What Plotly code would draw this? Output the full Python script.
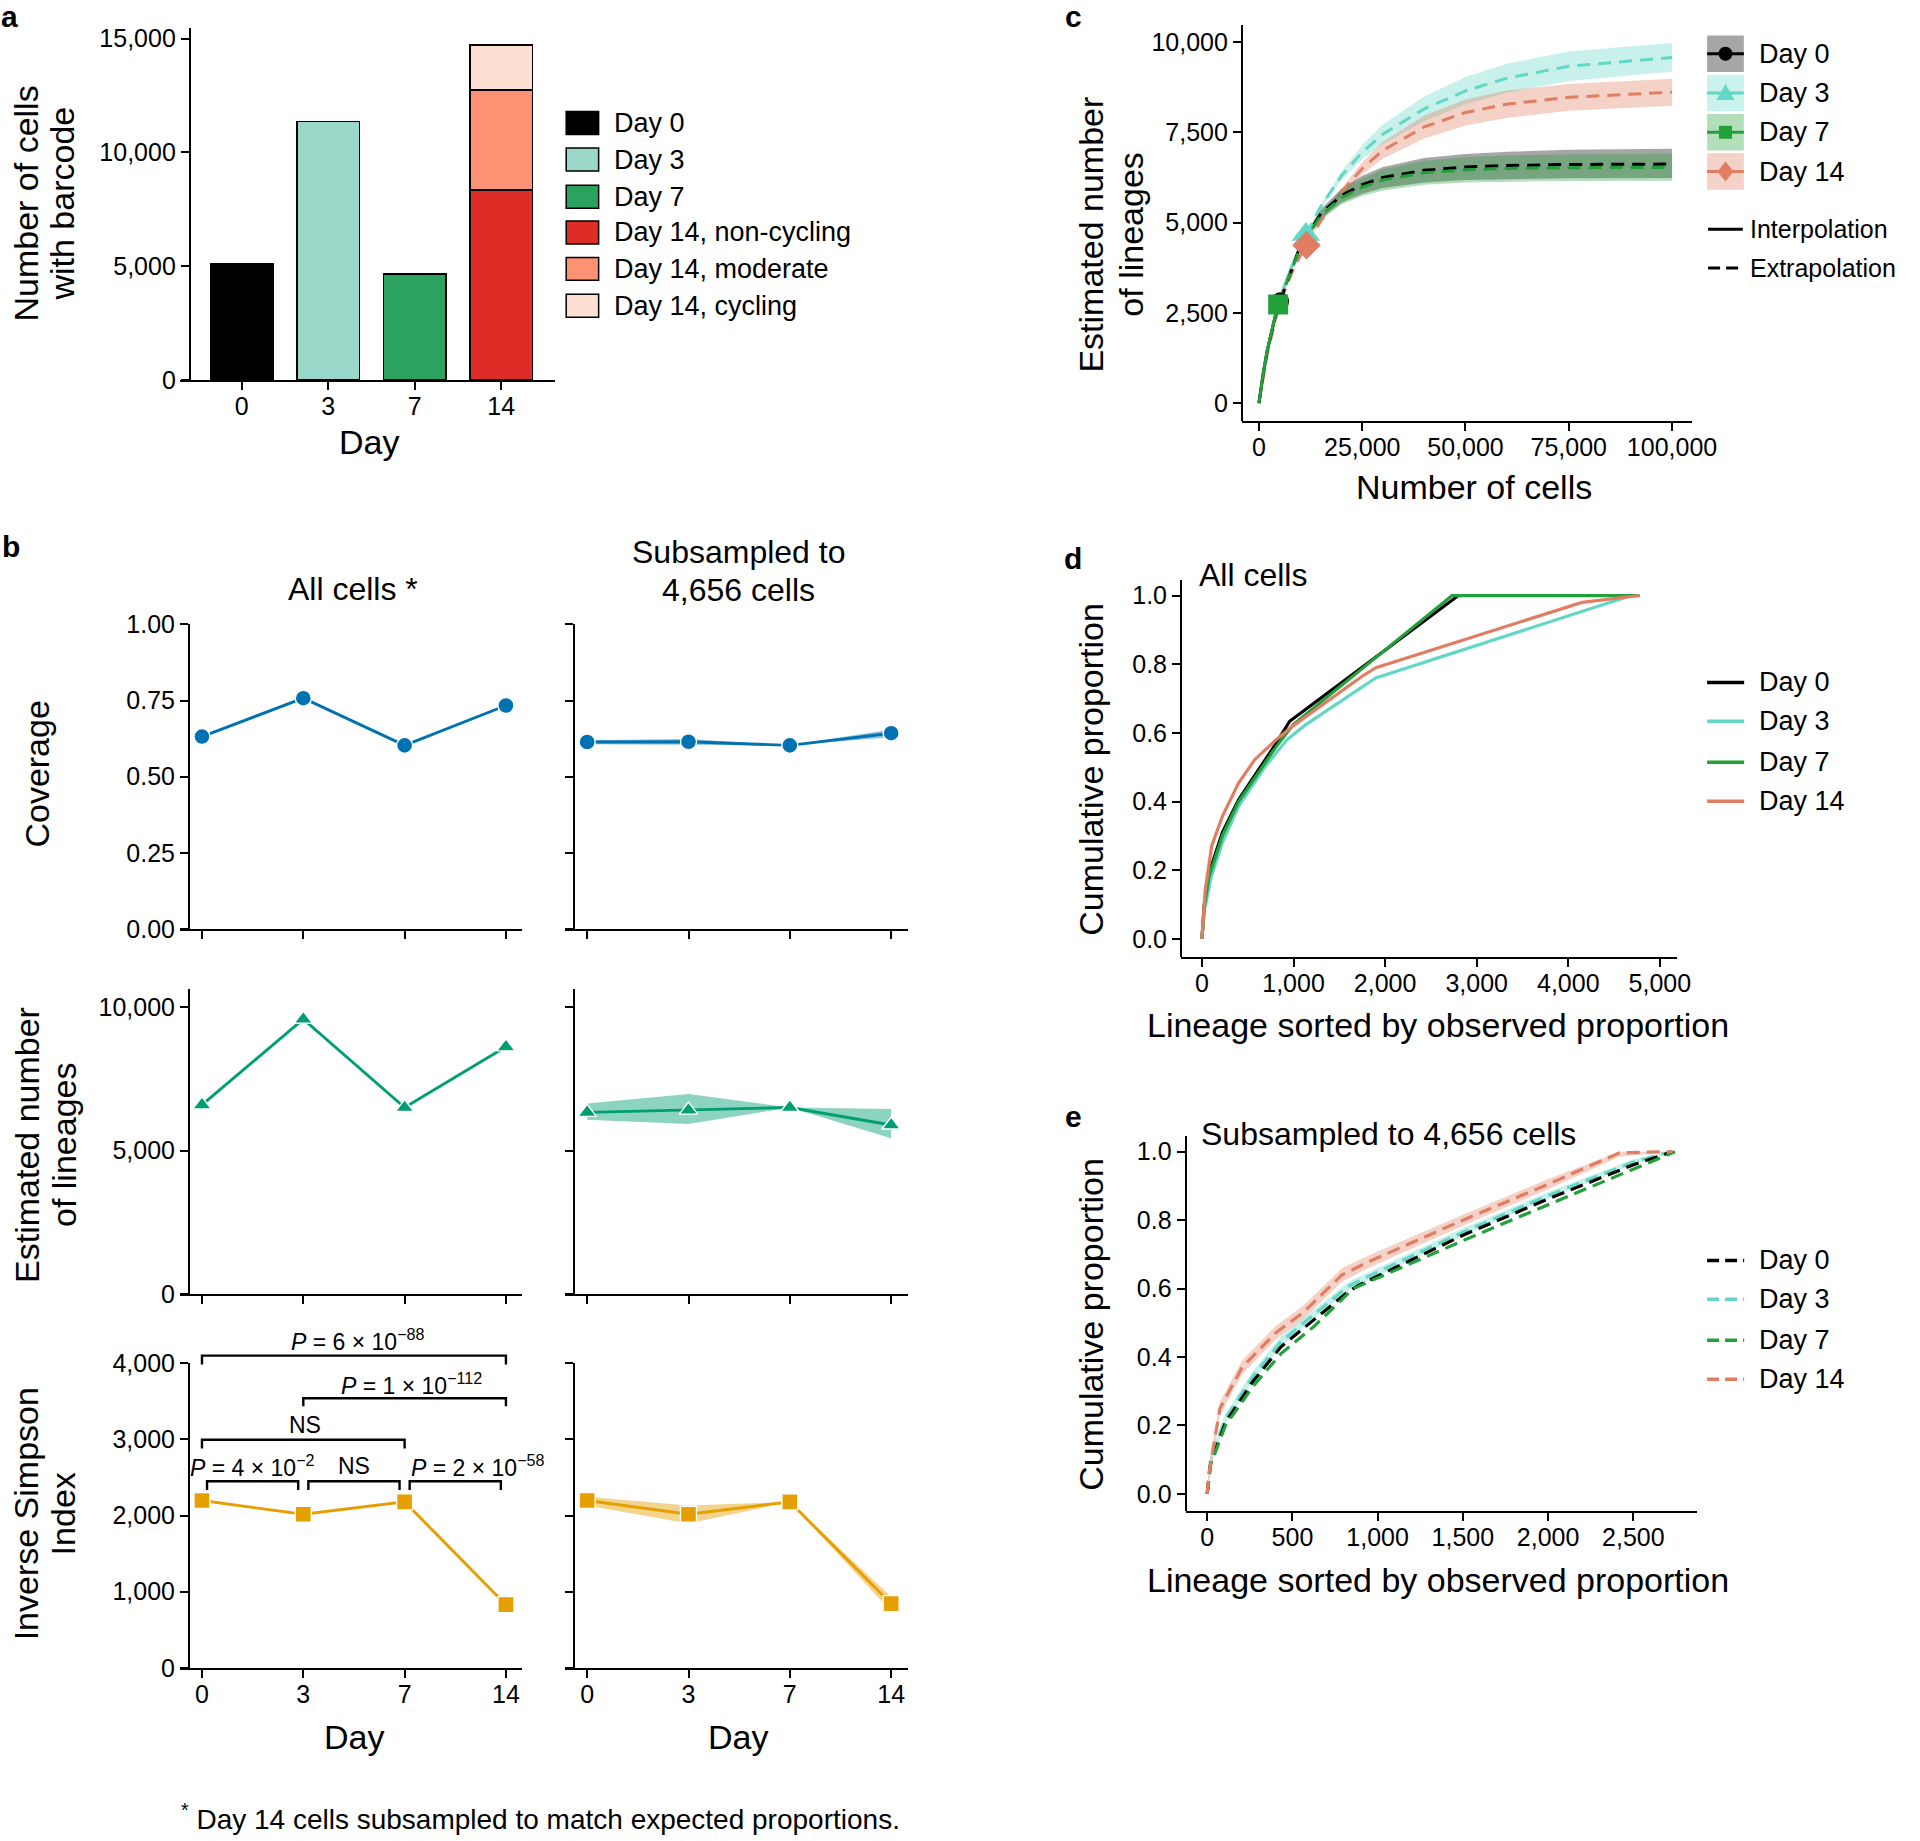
import plotly.graph_objects as go

W, H = 1920, 1841
FONT = "Liberation Sans, Arial, Helvetica, sans-serif"
# the page is photographed with the figure slightly shrunk and offset;
# positions below are given in reference pixels and mapped through this
OX, OY, DW, DH = 2.7, 12.5, 1893.0, 1816.0

# ---------------- data ----------------
days = ["0", "3", "7", "14"]

# a: number of cells with barcode
bar_days = ["0", "3", "7", "14", "14", "14"]
bar_names = ["Day 0", "Day 3", "Day 7", "Day 14, non-cycling", "Day 14, moderate", "Day 14, cycling"]
bar_cells = [5120, 11370, 4656, 8340, 4395, 1990]
bar_colors = ["#000000", "#99d8c9", "#2ca25f", "#de2d26", "#fc9272", "#fee0d2"]

# b: diversity per day, all cells and subsampled (with range)
coverage_all = [0.632, 0.758, 0.603, 0.734]
coverage_sub = [0.614, 0.615, 0.603, 0.643]
coverage_sub_lo = [0.607, 0.605, 0.603, 0.630]
coverage_sub_hi = [0.620, 0.624, 0.603, 0.655]

lineages_all = [6590, 9570, 6500, 8610]
lineages_sub = [6330, 6410, 6500, 5890]
lineages_sub_lo = [6070, 5930, 6500, 5430]
lineages_sub_hi = [6640, 6970, 6500, 6450]

simpson_all = [2197, 2016, 2179, 829]
simpson_sub = [2197, 2016, 2179, 842]
simpson_sub_lo = [2130, 1895, 2179, 738]
simpson_sub_hi = [2247, 2130, 2179, 933]

# significance brackets (inverse Simpson, all cells), x in day-index units
bracket_start = [0, 1, 0, 0.05, 1.05, 2.05]
bracket_end = [3, 3, 2, 0.95, 1.95, 2.95]
bracket_top = [4100, 3540, 2995, 2450, 2450, 2450]
bracket_foot = [3985, 3435, 2880, 2335, 2335, 2335]
bracket_text = ["<i>P</i> = 6 × 10<sup>−88</sup>", "<i>P</i> = 1 × 10<sup>−112</sup>", "NS",
                "<i>P</i> = 4 × 10<sup>−2</sup>", "NS", "<i>P</i> = 2 × 10<sup>−58</sup>"]
bracket_text_x = [1.54, 2.07, 1.02, 0.50, 1.50, 2.72]
bracket_text_y = [4300, 3730, 3190, 2650, 2650, 2650]

# c: rarefaction (interpolation) / extrapolation of lineage number
c_names = ["Day 0", "Day 3", "Day 7", "Day 14"]
obs_cells = [5120, 11370, 4656, 11500]
obs_lineages = [2822, 4668, 2731, 4372]

interp_cells_d0 = [0, 1000, 2000, 3000, 4000, 5120]
interp_lin_d0 = [0, 800, 1450, 1980, 2420, 2822]
interp_cells_d3 = [0, 2000, 4000, 6000, 8000, 10000, 11370]
interp_lin_d3 = [0, 1450, 2450, 3200, 3800, 4320, 4668]
interp_cells_d7 = [0, 1000, 2000, 3000, 4000, 4656]
interp_lin_d7 = [0, 810, 1460, 1990, 2440, 2731]
interp_cells_d14 = [0, 2000, 4000, 6000, 8000, 10000, 11500]
interp_lin_d14 = [0, 1350, 2320, 3050, 3620, 4090, 4372]

extrap_cells_d0 = [5120, 10000, 15000, 20000, 25000, 30000, 40000, 50000, 60000, 75000, 100000]
extrap_lin_d0 = [2822, 4350, 5250, 5750, 6050, 6250, 6450, 6540, 6580, 6610, 6622]
extrap_lo_d0 = [2822, 4290, 5120, 5560, 5800, 5960, 6110, 6180, 6210, 6228, 6234]
extrap_hi_d0 = [2822, 4410, 5380, 5940, 6300, 6540, 6790, 6900, 6960, 7020, 7047]

extrap_cells_d7 = [4656, 10000, 15000, 20000, 25000, 30000, 40000, 50000, 60000, 75000, 100000]
extrap_lin_d7 = [2731, 4300, 5200, 5690, 5980, 6180, 6380, 6460, 6500, 6520, 6530]
extrap_lo_d7 = [2731, 4240, 5070, 5500, 5740, 5890, 6050, 6110, 6140, 6155, 6162]
extrap_hi_d7 = [2731, 4360, 5330, 5880, 6220, 6470, 6710, 6810, 6860, 6890, 6909]

extrap_cells_d3 = [11370, 15000, 20000, 25000, 30000, 40000, 50000, 60000, 75000, 100000]
extrap_lin_d3 = [4668, 5450, 6300, 6950, 7450, 8150, 8650, 9000, 9330, 9575]
extrap_lo_d3 = [4668, 5400, 6180, 6750, 7180, 7810, 8270, 8600, 8920, 9175]
extrap_hi_d3 = [4668, 5500, 6420, 7150, 7720, 8490, 9030, 9400, 9740, 9975]

extrap_cells_d14 = [11500, 15000, 20000, 25000, 30000, 40000, 50000, 60000, 75000, 100000]
extrap_lin_d14 = [4372, 5050, 5850, 6500, 7000, 7650, 8050, 8280, 8470, 8614]
extrap_lo_d14 = [4372, 5000, 5750, 6330, 6770, 7330, 7690, 7900, 8100, 8237]
extrap_hi_d14 = [4372, 5100, 5950, 6670, 7230, 7970, 8410, 8660, 8840, 8984]

# d: cumulative proportion, all cells
d_x_d0 = [0, 25, 76, 223, 400, 576, 811, 958, 2800]
d_y_d0 = [0, 0.10, 0.19, 0.31, 0.405, 0.475, 0.57, 0.634, 1.0]
d_x_d3 = [0, 25, 100, 223, 400, 693, 928, 1134, 1898, 4690]
d_y_d3 = [0, 0.08, 0.18, 0.28, 0.386, 0.503, 0.58, 0.624, 0.76, 1.0]
d_x_d7 = [0, 25, 76, 223, 400, 576, 811, 1000, 2731, 4780]
d_y_d7 = [0, 0.09, 0.18, 0.30, 0.40, 0.47, 0.56, 0.625, 1.0, 1.0]
d_x_d14 = [0, 35, 106, 223, 400, 576, 811, 987, 1750, 1900, 4150, 4780]
d_y_d14 = [0, 0.14, 0.27, 0.357, 0.454, 0.522, 0.58, 0.619, 0.765, 0.79, 0.98, 1.0]

# e: cumulative proportion, subsampled to 4,656 cells
e_x_d0 = [0, 20, 107, 270, 433, 628, 824, 889, 1500, 2000, 2500, 2728]
e_y_d0 = [0, 0.09, 0.209, 0.33, 0.43, 0.51, 0.59, 0.61, 0.756, 0.862, 0.962, 1.0]
e_x_d3 = [0, 20, 107, 270, 433, 628, 824, 870, 1500, 2000, 2500, 2720]
e_y_d3 = [0, 0.10, 0.22, 0.345, 0.445, 0.525, 0.605, 0.618, 0.765, 0.872, 0.97, 1.0]
e_lo_d3 = [0, 0.085, 0.205, 0.33, 0.43, 0.512, 0.592, 0.606, 0.754, 0.862, 0.962, 1.0]
e_hi_d3 = [0, 0.115, 0.235, 0.36, 0.46, 0.538, 0.618, 0.63, 0.776, 0.882, 0.978, 1.0]
e_x_d7 = [0, 20, 107, 270, 433, 628, 856, 1500, 2000, 2500, 2744]
e_y_d7 = [0, 0.085, 0.20, 0.315, 0.41, 0.49, 0.60, 0.74, 0.845, 0.948, 1.0]
e_x_d14 = [0, 10, 75, 205, 400, 563, 791, 954, 1500, 2000, 2419, 2728]
e_y_d14 = [0, 0.06, 0.25, 0.37, 0.47, 0.53, 0.64, 0.68, 0.80, 0.905, 0.997, 1.0]
e_lo_d14 = [0, 0.035, 0.23, 0.35, 0.45, 0.51, 0.62, 0.662, 0.784, 0.89, 0.985, 1.0]
e_hi_d14 = [0, 0.085, 0.27, 0.39, 0.49, 0.55, 0.66, 0.698, 0.816, 0.92, 1.0, 1.0]

# colours
BLUE, GREEN, ORANGE = "#0072B2", "#009E73", "#E69F00"
day_line = ["#000000", "#62d7c5", "#22a03a", "#e07d62"]
day_band = ["rgba(0,0,0,0.35)", "rgba(98,215,197,0.35)", "rgba(34,160,58,0.35)", "rgba(224,125,98,0.35)"]


# ---------------- helpers ----------------
def px(x):
    return (x - OX) / DW


def py(y):
    return 1 - (y - OY) / DH


layout = {}
annotations = []
shapes = []
traces = []


def axis_style(**kw):
    d = dict(showline=True, linecolor="black", linewidth=2, ticks="outside", ticklen=8,
             tickwidth=2, tickcolor="black", showgrid=False, zeroline=False,
             tickfont=dict(family=FONT, size=25, color="black"))
    d.update(kw)
    return d


def add_panel(n, left, right, top, bottom, xrange, yrange, yline, xkw=None, ykw=None):
    s = "" if n == 1 else str(n)
    layout["xaxis" + s] = axis_style(domain=[px(left), px(right)], range=xrange,
                                     anchor="y" + s, ticklabelstandoff=-5, **(xkw or {}))
    layout["yaxis" + s] = axis_style(domain=[py(bottom), py(top)], range=yrange,
                                     anchor="free", position=px(yline), **(ykw or {}))
    return "x" + s, "y" + s


def note(text, x, y, size=27, xanchor="center", yanchor="middle", angle=0):
    annotations.append(dict(text=text, x=px(x), y=py(y), xref="paper", yref="paper",
                            showarrow=False, xanchor=xanchor, yanchor=yanchor, textangle=angle,
                            font=dict(family=FONT, size=size, color="black")))


cat = dict(type="category", categoryorder="array", categoryarray=days)

# ---------------- panel a ----------------
xa, ya = add_panel(1, 182.3, 557, 27, 379, [-0.717, 3.62], [0, 15450], 192.3, xkw=cat,
                   ykw=dict(tickvals=[0, 5000, 10000, 15000], tickformat=",d"))
for d, v, c, nm in zip(bar_days, bar_cells, bar_colors, bar_names):
    traces.append(go.Bar(x=[d], y=[v], name=nm, width=0.72, marker=dict(color=c, line=dict(color="black", width=1.5)),
                         xaxis=xa, yaxis=ya, showlegend=False))

# ---------------- panel b ----------------
cols = [(182.7, 524.5, 191.5), (567.5, 909.3, 576.3)]
rows = [(624, 929, [0, 1], dict(tickvals=[0, 0.25, 0.5, 0.75, 1.0], tickformat=".2f")),
        (989, 1295, [0, 10625], dict(tickvals=[0, 5000, 10000], tickformat=",d")),
        (1364, 1669, [0, 4000], dict(tickvals=[0, 1000, 2000, 3000, 4000], tickformat=",d"))]
row_data = [
    (coverage_all, coverage_sub, coverage_sub_lo, coverage_sub_hi, BLUE, "circle", "rgba(0,114,178,0.45)"),
    (lineages_all, lineages_sub, lineages_sub_lo, lineages_sub_hi, GREEN, "triangle-up", "rgba(0,158,115,0.45)"),
    (simpson_all, simpson_sub, simpson_sub_lo, simpson_sub_hi, ORANGE, "square", "rgba(230,159,0,0.45)"),
]
n = 2
for r, (top_, bot_, yr, yk) in enumerate(rows):
    allv, subv, lo, hi, col, sym, band = row_data[r]
    for ci, (l, rgt, yl) in enumerate(cols):
        xk = dict(cat, showticklabels=(r == 2))
        ykk = dict(yk, showticklabels=(ci == 0))
        xr, yrr = add_panel(n, l, rgt, top_, bot_, [-0.215, 3.162], yr, yl, xkw=xk, ykw=ykk)
        if ci == 1:
            traces.append(go.Scatter(x=days + days[::-1], y=hi + lo[::-1], fill="toself", fillcolor=band,
                                     line=dict(width=0), mode="lines", xaxis=xr, yaxis=yrr,
                                     showlegend=False, hoverinfo="skip"))
        vals = allv if ci == 0 else subv
        traces.append(go.Scatter(x=days, y=vals, mode="lines+markers", line=dict(color=col, width=2.9),
                                 marker=dict(symbol=sym, size=16, color=col, line=dict(color="white", width=1.4)),
                                 xaxis=xr, yaxis=yrr, showlegend=False))
        n += 1

# brackets: overlay axes sharing the inverse Simpson (all cells) scale
x6 = layout["xaxis6"]
y_top_val = 4840
top_px = 1669 - y_top_val * (1669 - 1364) / 4000
layout["xaxis11"] = dict(domain=x6["domain"], range=x6["range"], anchor="y11", visible=False)
layout["yaxis11"] = dict(domain=[py(1669), py(top_px)], range=[0, y_top_val], anchor="x11", visible=False)
for s0, s1, t, f in zip(bracket_start, bracket_end, bracket_top, bracket_foot):
    traces.append(go.Scatter(x=[s0, s0, s1, s1], y=[f, t, t, f], mode="lines",
                             line=dict(color="black", width=2.4), xaxis="x11", yaxis="y11",
                             showlegend=False, hoverinfo="skip"))
for txt, tx, ty in zip(bracket_text, bracket_text_x, bracket_text_y):
    annotations.append(dict(text=txt, x=tx, y=ty, xref="x11", yref="y11", showarrow=False,
                            font=dict(family=FONT, size=23, color="black")))

# ---------------- panel c ----------------
xc, yc = add_panel(8, 1243.3, 1693, 24, 420, [-4119, 104850], [-490, 10460], 1243.3,
                   xkw=dict(tickvals=[0, 25000, 50000, 75000, 100000], tickformat=",d"),
                   ykw=dict(tickvals=[0, 2500, 5000, 7500, 10000], tickformat=",d"))
c_interp = [(interp_cells_d0, interp_lin_d0), (interp_cells_d3, interp_lin_d3),
            (interp_cells_d7, interp_lin_d7), (interp_cells_d14, interp_lin_d14)]
c_extrap = [(extrap_cells_d0, extrap_lin_d0, extrap_lo_d0, extrap_hi_d0),
            (extrap_cells_d3, extrap_lin_d3, extrap_lo_d3, extrap_hi_d3),
            (extrap_cells_d7, extrap_lin_d7, extrap_lo_d7, extrap_hi_d7),
            (extrap_cells_d14, extrap_lin_d14, extrap_lo_d14, extrap_hi_d14)]
c_symbols = ["circle", "triangle-up", "square", "diamond"]
c_sizes = [18, 25, 20, 22]
order = [1, 3, 0, 2]
for i in order:
    ex, ey, lo, hi = c_extrap[i]
    traces.append(go.Scatter(x=ex + ex[::-1], y=hi + lo[::-1], fill="toself", fillcolor=day_band[i],
                             line=dict(width=0), mode="lines", xaxis=xc, yaxis=yc,
                             showlegend=False, hoverinfo="skip"))
for i in order:
    ix, iy = c_interp[i]
    ex, ey, lo, hi = c_extrap[i]
    traces.append(go.Scatter(x=ix, y=iy, mode="lines", line=dict(color=day_line[i], width=3,
                                                                  dash="13px,8px" if i == 3 else "solid"),
                             xaxis=xc, yaxis=yc, showlegend=False))
    traces.append(go.Scatter(x=ex, y=ey, mode="lines", line=dict(color=day_line[i], width=3, dash="13px,8px"),
                             xaxis=xc, yaxis=yc, showlegend=False))
for i in order:
    traces.append(go.Scatter(x=[obs_cells[i]], y=[obs_lineages[i]], mode="markers",
                             marker=dict(symbol=c_symbols[i], size=c_sizes[i], color=day_line[i]),
                             xaxis=xc, yaxis=yc, showlegend=False))

# ---------------- panel d ----------------
xd, yd = add_panel(9, 1182.5, 1678, 579, 956.7, [-228, 5188], [-0.0515, 1.0465], 1182.5,
                   xkw=dict(tickvals=[0, 1000, 2000, 3000, 4000, 5000], tickformat=",d"),
                   ykw=dict(tickvals=[0, 0.2, 0.4, 0.6, 0.8, 1.0], tickformat=".1f"))
d_lines = [(d_x_d0, d_y_d0), (d_x_d3, d_y_d3), (d_x_d7, d_y_d7), (d_x_d14, d_y_d14)]
for i, (lx, ly) in enumerate(d_lines):
    traces.append(go.Scatter(x=lx, y=ly, mode="lines", line=dict(color=day_line[i], width=3.2),
                             xaxis=xd, yaxis=yd, showlegend=False))

# ---------------- panel e ----------------
xe, ye = add_panel(10, 1187, 1698, 1136, 1512, [-127, 2874], [-0.05, 1.047], 1187,
                   xkw=dict(tickvals=[0, 500, 1000, 1500, 2000, 2500], tickformat=",d"),
                   ykw=dict(tickvals=[0, 0.2, 0.4, 0.6, 0.8, 1.0], tickformat=".1f"))
for bx, blo, bhi, bc in [(e_x_d14, e_lo_d14, e_hi_d14, day_band[3]), (e_x_d3, e_lo_d3, e_hi_d3, day_band[1])]:
    traces.append(go.Scatter(x=bx + bx[::-1], y=bhi + blo[::-1], fill="toself", fillcolor=bc,
                             line=dict(width=0), mode="lines", xaxis=xe, yaxis=ye,
                             showlegend=False, hoverinfo="skip"))
e_lines = [(e_x_d3, e_y_d3, 1), (e_x_d0, e_y_d0, 0), (e_x_d7, e_y_d7, 2), (e_x_d14, e_y_d14, 3)]
for lx, ly, i in e_lines:
    traces.append(go.Scatter(x=lx, y=ly, mode="lines", line=dict(color=day_line[i], width=3.2, dash="13px,7px"),
                             xaxis=xe, yaxis=ye, showlegend=False))

# ---------------- legends (drawn as layout decoration) ----------------
leg_a_y = [121.7, 158.3, 195.5, 231.3, 267.8, 304.7]
for yv, c, nm in zip(leg_a_y, bar_colors, bar_names):
    shapes.append(dict(type="rect", xref="paper", yref="paper", x0=px(568.3), x1=px(600.7),
                       y0=py(yv + 11.5), y1=py(yv - 11.5), fillcolor=c, line=dict(color="black", width=1.5)))
    note(nm, 614, yv, xanchor="left")

leg_c_y = [52.3, 91.7, 131, 170.3]
box_fill = ["#a6a6a6", "#caf2ec", "#b2deba", "#f4d2c8"]
kx0, kx1 = 1708, 1744.7
for i, yv in enumerate(leg_c_y):
    shapes.append(dict(type="rect", xref="paper", yref="paper", x0=px(kx0), x1=px(kx1),
                       y0=py(yv + 18.3), y1=py(yv - 18.3), fillcolor=box_fill[i], line=dict(width=0), layer="below"))
    shapes.append(dict(type="line", xref="paper", yref="paper", x0=px(kx0), x1=px(kx1),
                       y0=py(yv), y1=py(yv), line=dict(color=day_line[i], width=3)))
    cx = (kx0 + kx1) / 2
    if i == 0:
        shapes.append(dict(type="circle", xref="paper", yref="paper", x0=px(cx - 7), x1=px(cx + 7),
                           y0=py(yv + 7), y1=py(yv - 7), fillcolor=day_line[i], line=dict(width=0)))
    elif i == 1:
        path = f"M {px(cx - 9)} {py(yv + 7)} L {px(cx + 9)} {py(yv + 7)} L {px(cx)} {py(yv - 9)} Z"
        shapes.append(dict(type="path", xref="paper", yref="paper", path=path, fillcolor=day_line[i], line=dict(width=0)))
    elif i == 2:
        shapes.append(dict(type="rect", xref="paper", yref="paper", x0=px(cx - 6.5), x1=px(cx + 6.5),
                           y0=py(yv + 6.5), y1=py(yv - 6.5), fillcolor=day_line[i], line=dict(width=0)))
    else:
        path = (f"M {px(cx - 8)} {py(yv)} L {px(cx)} {py(yv - 10)} L {px(cx + 8)} {py(yv)} "
                f"L {px(cx)} {py(yv + 10)} Z")
        shapes.append(dict(type="path", xref="paper", yref="paper", path=path, fillcolor=day_line[i], line=dict(width=0)))
    note(c_names[i], 1758, yv, xanchor="left")
for yv, dash, nm in [(228, "solid", "Interpolation"), (267, "12px,6px", "Extrapolation")]:
    shapes.append(dict(type="line", xref="paper", yref="paper", x0=px(kx0 + 1), x1=px(kx1 - 1),
                       y0=py(yv), y1=py(yv), line=dict(color="black", width=3, dash=dash)))
    note(nm, 1749, yv, size=25, xanchor="left")

for ys, dash in [([682, 721, 762, 801], "solid"), ([1261, 1300, 1341, 1380], "12px,6px")]:
    for i, yv in enumerate(ys):
        shapes.append(dict(type="line", xref="paper", yref="paper", x0=px(1708), x1=px(1745),
                           y0=py(yv), y1=py(yv), line=dict(color=day_line[i], width=3.5, dash=dash)))
        note(c_names[i], 1758, yv, xanchor="left")

# ---------------- texts ----------------
for lab, x, y in [("a", 12, 15), ("b", 14, 546), ("c", 1075, 15), ("d", 1075, 558), ("e", 1075, 1117)]:
    note(f"<b>{lab}</b>", x, y, size=30)

note("Number of cells", 29, 202, size=34, angle=-90)
note("with barcode", 65, 202, size=34, angle=-90)
note("Coverage", 40, 774, size=34, angle=-90)
note("Estimated number", 29, 1145, size=34, angle=-90)
note("of lineages", 66, 1145, size=34, angle=-90)
note("Inverse Simpson", 29, 1515, size=34, angle=-90)
note("Index", 66, 1515, size=34, angle=-90)
note("Estimated number", 1093, 233, size=34, angle=-90)
note("of lineages", 1133, 233, size=34, angle=-90)
note("Cumulative proportion", 1093, 769, size=34, angle=-90)
note("Cumulative proportion", 1093, 1325, size=34, angle=-90)

note("Day", 371, 441, size=34)
note("Day", 356, 1738, size=34)
note("Day", 740, 1738, size=34)
note("Number of cells", 1475, 486, size=34)
note("Lineage sorted by observed proportion", 1439, 1025, size=34)
note("Lineage sorted by observed proportion", 1439, 1581, size=34)

note("All cells *", 355, 588, size=32)
note("Subsampled to", 740, 551, size=32)
note("4,656 cells", 740, 589, size=32)
note("All cells", 1198, 574, size=32, xanchor="left")
note("Subsampled to 4,656 cells", 1200, 1134, size=32, xanchor="left")
note("<sup>*</sup> Day 14 cells subsampled to match expected proportions.", 182, 1818, size=28, xanchor="left")

layout.update(width=W, height=H, margin=dict(l=0, r=0, t=0, b=0), paper_bgcolor="white",
              plot_bgcolor="rgba(0,0,0,0)", barmode="stack", showlegend=False,
              annotations=annotations, shapes=shapes, font=dict(family=FONT, color="black"))

fig = go.Figure(data=traces, layout=layout)
fig.write_html("out.html", config={"displayModeBar": False},
               post_script="document.body.style.margin='0px';")
